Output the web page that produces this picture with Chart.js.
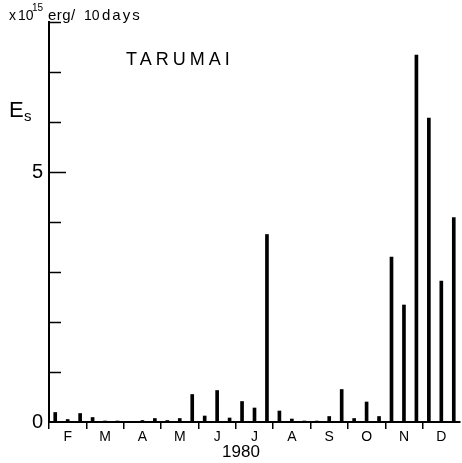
<!DOCTYPE html>
<html>
<head>
<meta charset="utf-8">
<script src="https://cdn.jsdelivr.net/npm/chart.js@4.4.1/dist/chart.umd.min.js"></script>
<style>
  html, body { margin: 0; padding: 0; background: #fff; }
  #wrap { width: 462px; height: 463px; position: relative; }
</style>
</head>
<body>
<div id="wrap"><canvas id="c"></canvas></div>
<script>
// 10-day periods, Feb - Dec 1980
const months = ['F', 'M', 'A', 'M', 'J', 'J', 'A', 'S', 'O', 'N', 'D'];
const decades = ['1-10', '11-20', '21-end'];
// x 10^15 erg per 10 days
const energy = [
  0.19, 0.05, 0.17,   // Feb
  0.09, 0.02, 0.02,   // Mar
  0.01, 0.03, 0.07,   // Apr
  0.03, 0.07, 0.55,   // May
  0.12, 0.63, 0.08,   // Jun
  0.41, 0.28, 3.75,   // Jul
  0.22, 0.06, 0.02,   // Aug
  0.02, 0.11, 0.65,   // Sep
  0.07, 0.40, 0.11,   // Oct
  3.30, 2.34, 7.34,   // Nov
  6.08, 2.82, 4.09    // Dec
];
const yLabeled = [0, 5];
const yMax = 8;
const yearLabel = '1980';

const periods = [];
months.forEach((m, i) => decades.forEach(d => periods.push(m + i + ' ' + d)));

const FONT = '"Liberation Sans", Arial, sans-serif';

// inward y ticks, title, unit text and year
const decor = {
  id: 'decor',
  afterDraw(chart) {
    const ctx = chart.ctx;
    const ys = chart.scales.y;
    const left = chart.chartArea.left;
    ctx.save();
    ctx.strokeStyle = '#000';
    ctx.lineWidth = 1.5;
    for (let v = 1; v <= yMax; v++) {
      const py = Math.round(ys.getPixelForValue(v)) + 0.5;
      const len = v === 5 ? 17 : 12;
      ctx.beginPath();
      ctx.moveTo(left, py);
      ctx.lineTo(left + len, py);
      ctx.stroke();
    }

    ctx.fillStyle = '#000';
    ctx.textBaseline = 'alphabetic';
    ctx.textAlign = 'left';

    // unit
    const put = (txt, x, y, size, sp) => {
      ctx.font = size + 'px ' + FONT;
      ctx.letterSpacing = sp + 'px';
      ctx.fillText(txt, x, y);
    };
    put('x', 9, 20, 14, 0);
    put('10', 18, 20, 14, 0);
    put('15', 32, 11, 10, 0);
    put('erg', 48, 20, 15, 0.5);
    put('/', 71, 20, 15, 0);
    put('10', 84, 20, 14, 0);
    put('days', 102, 20, 15, 2);
    ctx.letterSpacing = '0px';

    // Es
    ctx.font = '22px ' + FONT;
    ctx.fillText('E', 9, 117);
    ctx.font = '15px ' + FONT;
    ctx.fillText('s', 24, 121);

    // title
    ctx.font = '18px ' + FONT;
    ctx.letterSpacing = '4px';
    ctx.fillText('TARUMAI', 126, 65);
    ctx.letterSpacing = '0px';

    // year
    ctx.font = '17px ' + FONT;
    ctx.textAlign = 'center';
    ctx.fillText(yearLabel, 241, 457);
    ctx.restore();
  }
};

new Chart(document.getElementById('c'), {
  type: 'bar',
  data: {
    labels: periods,
    datasets: [{
      data: energy,
      backgroundColor: '#000',
      borderWidth: 0,
      barThickness: 3
    }]
  },
  options: {
    responsive: true,
    maintainAspectRatio: false,
    animation: false,
    layout: { padding: { top: 22, right: 2, left: 0, bottom: 0 } },
    plugins: { legend: { display: false }, tooltip: { enabled: false } },
    scales: {
      x: {
        offset: true,
        afterFit: s => { s.height = 41; },
        border: { display: true, color: '#000', width: 2 },
        grid: {
          offset: true,
          drawOnChartArea: false,
          drawTicks: true,
          tickLength: 7,
          lineWidth: 1.5,
          color: c => (c.index % 3 === 0 ? '#000' : 'rgba(0,0,0,0)')
        },
        ticks: {
          autoSkip: false,
          maxRotation: 0,
          padding: 0,
          color: '#000',
          font: { family: FONT, size: 14 },
          callback: (v, i) => (i % 3 === 1 ? months[(i - 1) / 3] : '')
        }
      },
      y: {
        min: 0,
        max: yMax,
        afterFit: s => { s.width = 49; },
        border: { display: true, color: '#000', width: 2 },
        grid: { drawOnChartArea: false, drawTicks: false, color: 'rgba(0,0,0,0)' },
        ticks: {
          stepSize: 1,
          padding: 6,
          color: '#000',
          font: { family: FONT, size: 20 },
          callback: v => (yLabeled.includes(v) ? String(v) : '')
        }
      }
    }
  },
  plugins: [decor]
});
</script>
</body>
</html>
